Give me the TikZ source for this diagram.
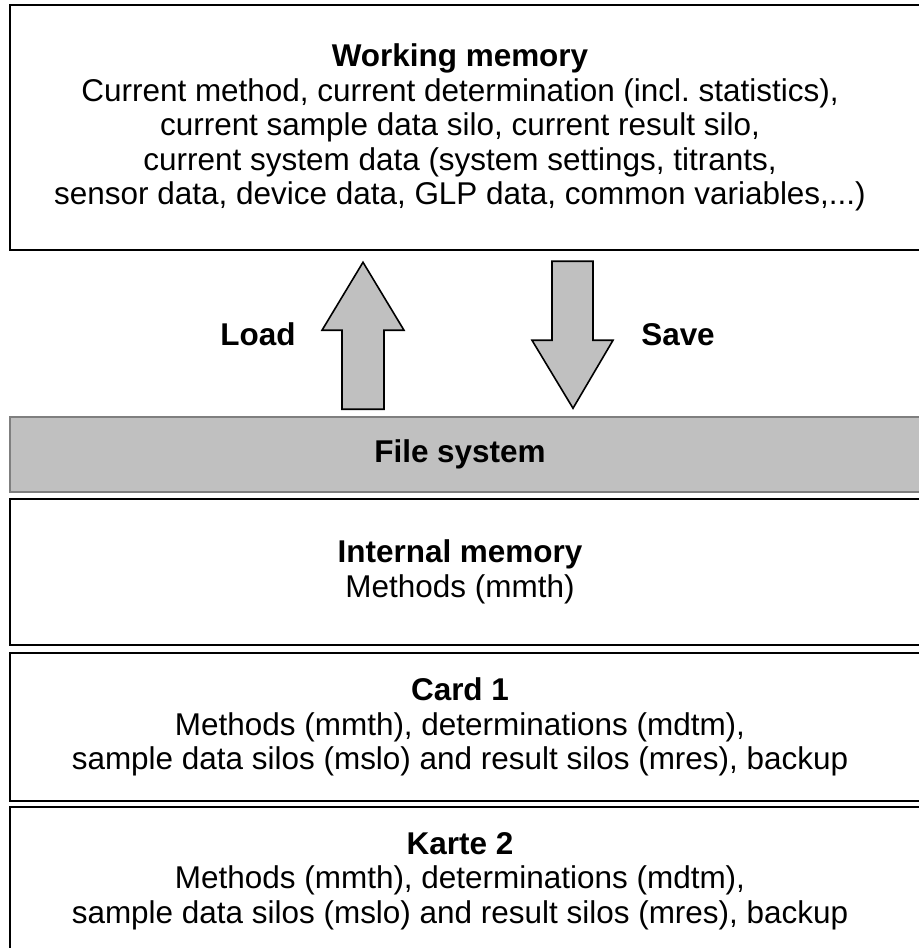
\documentclass[tikz,border=0pt]{standalone}
\usepackage{fontspec}
\setmainfont{Liberation Sans}
\usepackage{xcolor}
\usetikzlibrary{positioning, backgrounds, calc}
\definecolor{fsgray}{HTML}{C0C0C0}
\definecolor{fsedge}{HTML}{7F7F7F}
\frenchspacing

\begin{document}
\begin{tikzpicture}[x=0.75pt, y=-0.75pt, node distance=5.25pt,
  box/.style={minimum width=675pt,align=center,inner sep=0pt,font=\fontsize{23.6pt}{25.9pt}\selectfont},
  frame/.style={draw=black,line width=1.5pt},
  fsframe/.style={draw=fsedge,line width=1.5pt,fill=fsgray},
  bigarrow/.style={draw=black,line width=1.2pt,fill=fsgray,line join=miter},
  lbl/.style={anchor=base,inner sep=0pt,font=\fontsize{23.6pt}{25.9pt}\selectfont\bfseries}]
  \useasboundingbox (0,0) rectangle (919,948);
  \clip (0,0) rectangle (919,948);
  % memory blocks
  \node[box, minimum height=183.75pt] (wm) at (460,127.5) {\textbf{Working memory}\\
    Current method, current determination (incl. statistics),\\
    current sample data silo, current result silo,\\
    current system data (system settings, titrants,\\
    sensor data, device data, GLP data, common variables,...)};
  \node[box, minimum height=55.5pt, below=125.25pt of wm] (fs) {\textbf{File system}};
  \node[box, minimum height=109.5pt, below=of fs] (im) {\textbf{Internal memory}\\ Methods (mmth)};
  \node[box, minimum height=110.25pt, below=6pt of im] (card1) {\textbf{Card 1}\\
    Methods (mmth), determinations (mdtm),\\
    sample data silos (mslo) and result silos (mres), backup};
  \node[box, minimum height=111pt, below=4.5pt of card1] (card2) {\textbf{Karte 2}\\
    Methods (mmth), determinations (mdtm),\\
    sample data silos (mslo) and result silos (mres), backup};
  \begin{scope}[on background layer]
    \draw[frame] (wm.north west) rectangle ($(wm.south east)+(30,0)$);
    \draw[fsframe] (fs.north west) rectangle ($(fs.south east)+(30,0)$);
    \draw[frame] (im.north west) rectangle ($(im.south east)+(30,0)$);
    \draw[frame] (card1.north west) rectangle ($(card1.south east)+(30,0)$);
    \draw[frame] (card2.north west) rectangle ($(card2.south east)+(30,10)$);
  \end{scope}
  % load / save
  \coordinate (ld) at ($(fs.north)+(-97.5,-8)$);
  \coordinate (sv) at ($(fs.north)+(113,-9)$);
  \draw[bigarrow] (ld) ++(-20.5,0) -- ++(0,-79) -- ++(-20,0) -- ++(41,-68)
    -- ++(41,68) -- ++(-20,0) -- ++(0,79) -- cycle;
  \draw[bigarrow] (sv) -- ++(-41,-68) -- ++(20,0) -- ++(0,-79) -- ++(41,0)
    -- ++(0,79) -- ++(20,0) -- cycle;
  \node[lbl] (load) at (258,345) {Load};
  \node[lbl] (save) at (678,345) {Save};
\end{tikzpicture}
\end{document}
